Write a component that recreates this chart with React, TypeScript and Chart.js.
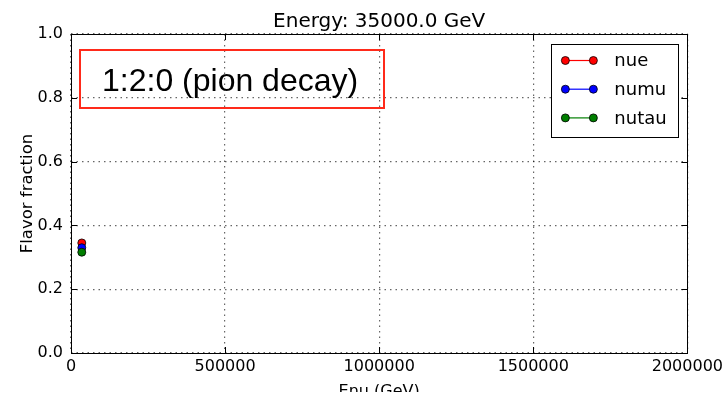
import React, { useEffect, useRef } from "react";
import { Chart, registerables } from "chart.js";

Chart.register(...registerables);

// ---- data ----
const energies = [35000];
const seriesNames = ["nue", "numu", "nutau"];
const nueValues = [0.345];
const numuValues = [0.33];
const nutauValues = [0.316];
const seriesColors = ["#ff0000", "#0000ff", "#007f00"];
const xTicks = [0, 500000, 1000000, 1500000, 2000000];
const yTicks = [0, 0.2, 0.4, 0.6, 0.8, 1.0];
const titleText = "Energy: 35000.0 GeV";
const xLabel = "Enu (GeV)";
const yLabel = "Flavor fraction";
const annotationText = "1:2:0 (pion decay)";

const FONT = "'DejaVu Sans', sans-serif";

const overlayPlugin = {
  id: "overlay",
  afterDatasetsDraw(chart: any) {
    const ctx = chart.ctx as CanvasRenderingContext2D;
    const a = chart.chartArea;
    const xs = chart.scales.x;
    const ys = chart.scales.y;
    ctx.save();

    // frame
    ctx.strokeStyle = "#000";
    ctx.lineWidth = 1;
    ctx.strokeRect(Math.round(a.left) + 0.5, Math.round(a.top) + 0.5, Math.round(a.right - a.left), Math.round(a.bottom - a.top));

    // inner ticks
    const tl = 6;
    ctx.beginPath();
    xTicks.forEach((t) => {
      const px = Math.round(xs.getPixelForValue(t)) + 0.5;
      ctx.moveTo(px, a.bottom);
      ctx.lineTo(px, a.bottom - tl);
      ctx.moveTo(px, a.top);
      ctx.lineTo(px, a.top + tl);
    });
    yTicks.forEach((t) => {
      const py = Math.round(ys.getPixelForValue(t)) + 0.5;
      ctx.moveTo(a.left, py);
      ctx.lineTo(a.left + tl, py);
      ctx.moveTo(a.right, py);
      ctx.lineTo(a.right - tl, py);
    });
    ctx.stroke();

    // annotation box (transparent)
    const bx = a.left + 9;
    const by = a.top + 16;
    ctx.strokeStyle = "#ff2a1a";
    ctx.lineWidth = 2;
    ctx.strokeRect(bx, by, 304, 58);
    ctx.fillStyle = "#000";
    ctx.font = "32px 'Liberation Sans', Arial, sans-serif";
    ctx.textAlign = "left";
    ctx.textBaseline = "alphabetic";
    ctx.fillText(annotationText, bx + 22, by + 41);

    // legend
    const lw = 127;
    const lh = 93;
    const lx = a.right - 9 - lw;
    const ly = a.top + 10;
    ctx.fillStyle = "#fff";
    ctx.fillRect(lx, ly, lw, lh);
    ctx.strokeStyle = "#000";
    ctx.lineWidth = 1;
    ctx.strokeRect(Math.round(lx) + 0.5, Math.round(ly) + 0.5, lw, lh);
    chart.data.datasets.forEach((ds: any, i: number) => {
      const cy = ly + 16.5 + i * 28.7;
      const x1 = lx + 14;
      const x2 = lx + 42;
      ctx.strokeStyle = ds.borderColor;
      ctx.lineWidth = 1.2;
      ctx.beginPath();
      ctx.moveTo(x1, cy);
      ctx.lineTo(x2, cy);
      ctx.stroke();
      [x1, x2].forEach((mx) => {
        ctx.beginPath();
        ctx.arc(mx, cy, 4, 0, Math.PI * 2);
        ctx.fillStyle = ds.pointBackgroundColor;
        ctx.fill();
        ctx.strokeStyle = "#000";
        ctx.lineWidth = 0.8;
        ctx.stroke();
      });
      ctx.fillStyle = "#000";
      ctx.font = `18px ${FONT}`;
      ctx.textBaseline = "middle";
      ctx.textAlign = "left";
      ctx.fillText(ds.label, lx + 63, cy + 1);
    });

    // title
    ctx.fillStyle = "#000";
    ctx.font = `20px ${FONT}`;
    ctx.textAlign = "center";
    ctx.textBaseline = "alphabetic";
    ctx.fillText(titleText, (a.left + a.right) / 2, 27);

    // x label
    ctx.font = `16px ${FONT}`;
    ctx.fillText(xLabel, (a.left + a.right) / 2, 396);

    // y label
    ctx.save();
    ctx.translate(32, (a.top + a.bottom) / 2);
    ctx.rotate(-Math.PI / 2);
    ctx.textAlign = "center";
    ctx.textBaseline = "alphabetic";
    ctx.font = `16.5px ${FONT}`;
    ctx.fillText(yLabel, 0, 0);
    ctx.restore();

    ctx.restore();
  },
};

export default function App() {
  const ref = useRef<HTMLCanvasElement | null>(null);
  useEffect(() => {
    if (!ref.current) return;
    const valueLists = [nueValues, numuValues, nutauValues];
    const datasets = seriesNames.map((name, i) => ({
      label: name,
      data: energies.map((e, j) => ({ x: e, y: valueLists[i][j] })),
      borderColor: seriesColors[i],
      backgroundColor: seriesColors[i],
      pointBackgroundColor: seriesColors[i],
      pointBorderColor: "#000",
      pointBorderWidth: 0.8,
      pointRadius: 4,
      borderWidth: 1.2,
      showLine: true,
      order: seriesNames.length - i,
    }));
    const chart = new Chart(ref.current, {
      type: "line",
      data: { datasets },
      options: {
        responsive: false,
        animation: false,
        devicePixelRatio: 1,
        layout: { padding: { top: 34, right: 38, left: 0, bottom: 0 } },
        plugins: { legend: { display: false }, tooltip: { enabled: false }, title: { display: false } },
        scales: {
          x: {
            type: "linear",
            min: 0,
            max: 2000000,
            afterBuildTicks: (s: any) => {
              s.ticks = xTicks.map((v) => ({ value: v }));
            },
            afterFit: (s: any) => {
              s.height = 39;
            },
            ticks: {
              color: "#000",
              font: { family: "DejaVu Sans", size: 16 },
              padding: 4,
              maxRotation: 0,
              autoSkip: false,
              callback: (v: any) => String(v),
            },
            grid: { color: "rgba(0,0,0,0.6)", drawTicks: false, lineWidth: 1.2 },
            border: { display: false, dash: [1.5, 4] },
          },
          y: {
            type: "linear",
            min: 0,
            max: 1,
            afterBuildTicks: (s: any) => {
              s.ticks = yTicks.map((v) => ({ value: v }));
            },
            afterFit: (s: any) => {
              s.width = 71;
            },
            ticks: {
              color: "#000",
              font: { family: "DejaVu Sans", size: 16 },
              padding: 8,
              autoSkip: false,
              callback: (v: any) => Number(v).toFixed(1),
            },
            grid: { color: "rgba(0,0,0,0.6)", drawTicks: false, lineWidth: 1.2 },
            border: { display: false, dash: [1.5, 4] },
          },
        },
      },
      plugins: [overlayPlugin],
    } as any);
    return () => chart.destroy();
  }, []);
  return (
    <div style={{ position: "absolute", left: 0, top: 0, width: 727, height: 397, background: "#fff" }}>
      <canvas ref={ref} width={727} height={392} style={{ display: "block", width: 727, height: 392 }} />
    </div>
  );
}
